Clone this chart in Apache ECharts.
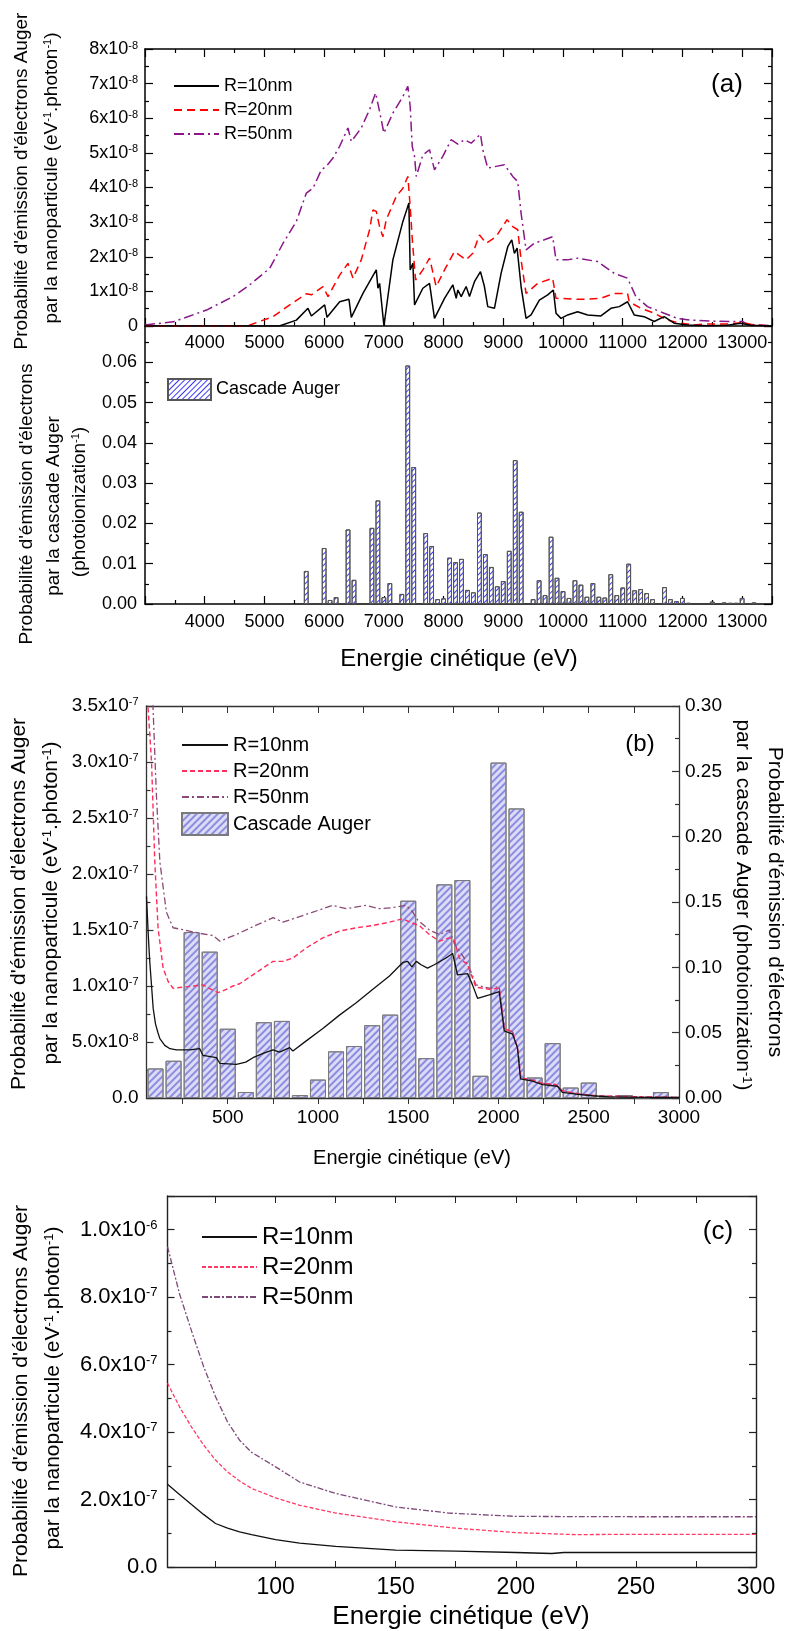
<!DOCTYPE html>
<html>
<head>
<meta charset="utf-8">
<script src="https://cdn.jsdelivr.net/npm/echarts@6.0.0/dist/echarts.min.js"></script>
<style>
html, body { margin: 0; padding: 0; background: #fff; }
#chart { width: 785px; height: 1631px; }
</style>
</head>
<body>
<div id="chart"></div>
<script>
var FONT = '"Liberation Sans", Arial, sans-serif';

// (a) probabilité par nanoparticule, unité 1e-8 eV-1.photon-1  [energie eV, valeur]
var aR10 = [[3000,0],[5250,0],[5535,0.17],[5730,0.51],[5786,0.29],[6009,0.61],[6048,0.25],[6260,0.70],[6416,0.77],[6455,0.25],[6650,0.94],[6873,1.62],[6901,1.09],[6929,1.23],[7001,0],[7151,1.91],[7319,3.02],[7374,3.31],[7419,3.55],[7441,1.62],[7486,1.81],[7514,0.61],[7653,1.09],[7765,1.23],[7848,0.22],[8016,0.80],[8155,1.19],[8211,0.80],[8239,1.04],[8295,0.85],[8378,1.14],[8434,0.85],[8517,1.28],[8618,1.57],[8684,1.14],[8740,0.56],[8852,0.51],[8963,1.52],[9075,2.29],[9142,2.49],[9186,2.10],[9231,2.25],[9298,1.14],[9381,0.22],[9465,0.32],[9604,0.75],[9744,0.90],[9838,1.04],[9883,0.37],[9966,0.22],[10078,0.32],[10245,0.41],[10412,0.32],[10635,0.29],[10802,0.51],[10942,0.56],[11081,0.70],[11192,0.32],[11359,0.27],[11527,0.13],[11694,0.27],[11861,0.08],[12084,0.03],[12419,0.01],[12753,0.02],[12976,0.08],[13143,0.02],[13500,0]];
var aR20 = [[3000,0],[4700,0],[4755,0.03],[5145,0.27],[5424,0.61],[5702,0.93],[5786,0.90],[5981,1.14],[6065,0.85],[6260,1.47],[6399,1.81],[6483,1.38],[6622,1.91],[6761,2.78],[6817,3.35],[6873,3.31],[6928,2.87],[6984,2.58],[7040,3.07],[7207,3.74],[7319,3.98],[7402,4.32],[7441,3.45],[7475,2.53],[7531,1.33],[7653,1.62],[7765,1.96],[7876,1.14],[8016,1.62],[8183,2.15],[8378,1.91],[8490,2.10],[8601,2.63],[8713,2.39],[8880,2.58],[9064,3.07],[9158,2.87],[9242,2.78],[9298,1.91],[9381,0.94],[9576,1.23],[9827,1.38],[9883,0.80],[10301,0.77],[10635,0.80],[10858,0.94],[11081,0.94],[11109,0.70],[11304,0.51],[11527,0.37],[11750,0.17],[11973,0.08],[12196,0.03],[12419,0.06],[12753,0.06],[13004,0.10],[13199,0.03],[13500,0]];
var aR50 = [[3000,0.03],[3473,0.12],[4030,0.46],[4477,0.85],[4755,1.19],[5090,1.67],[5312,2.39],[5535,3.02],[5702,3.84],[5814,3.98],[5953,4.51],[6037,4.61],[6148,4.85],[6260,5.19],[6399,5.72],[6455,5.33],[6622,5.72],[6761,6.25],[6862,6.73],[6928,6.20],[7001,5.57],[7151,6.15],[7319,6.63],[7402,6.92],[7441,6.34],[7475,5.19],[7514,4.90],[7542,4.32],[7653,4.94],[7765,5.09],[7848,4.51],[7987,4.90],[8127,5.38],[8238,5.25],[8350,5.38],[8462,5.28],[8618,5.54],[8657,5.09],[8740,4.56],[8880,4.61],[9019,4.66],[9158,4.32],[9242,4.17],[9298,3.26],[9381,2.20],[9520,2.39],[9688,2.49],[9827,2.58],[9883,1.91],[10078,1.91],[10245,1.96],[10579,1.86],[10858,1.52],[11081,1.38],[11220,0.85],[11415,0.56],[11694,0.37],[11917,0.22],[12140,0.17],[12530,0.14],[12809,0.13],[13004,0.13],[13087,0.05],[13500,0.01]];

// (a) cascade Auger, photoionization-1
var aCascade = [[5700,0.0082],[6000,0.0139],[6100,0.0010],[6200,0.0017],[6400,0.0185],[6500,0.0060],[6800,0.0189],[6900,0.0257],[7000,0.0017],[7100,0.0052],[7300,0.0025],[7400,0.0592],[7500,0.0340],[7700,0.0176],[7800,0.0144],[7900,0.0012],[8000,0.0014],[8100,0.0115],[8200,0.0104],[8300,0.0112],[8400,0.0035],[8500,0.0029],[8600,0.0227],[8700,0.0124],[8800,0.0092],[8900,0.0044],[9000,0.0057],[9100,0.0132],[9200,0.0357],[9300,0.0229],[9500,0.0012],[9600,0.0059],[9700,0.0022],[9800,0.0167],[9900,0.0065],[10000,0.0032],[10100,0.0015],[10200,0.0059],[10300,0.0048],[10400,0.0018],[10500,0.0052],[10600,0.0018],[10700,0.0016],[10800,0.0074],[10900,0.0022],[11000,0.0041],[11100,0.0100],[11200,0.0034],[11300,0.0037],[11400,0.0027],[11500,0.0012],[11700,0.0042],[11800,0.0012],[11900,0.0007],[12000,0.0015],[12100,0.0003],[12500,0.0006],[12700,0.0004],[12800,0.0003],[12900,0.0003],[13000,0.0015],[13200,0.0004]];

// (b) unité 1e-7
var bR10 = [[50,1.8],[60,1.45],[68,1.22],[78,1.0],[87,0.8],[100,0.66],[114,0.58],[124,0.53],[151,0.47],[180,0.44],[216,0.43],[290,0.43],[345,0.44],[354,0.45],[363,0.38],[437,0.36],[456,0.31],[548,0.30],[600,0.32],[640,0.36],[700,0.40],[751,0.43],[787,0.41],[843,0.45],[861,0.42],[935,0.51],[1027,0.62],[1119,0.74],[1212,0.85],[1304,0.97],[1396,1.09],[1470,1.21],[1497,1.22],[1520,1.17],[1545,1.22],[1571,1.19],[1607,1.16],[1644,1.19],[1709,1.25],[1746,1.29],[1773,1.10],[1829,1.11],[1856,1.01],[1884,0.89],[1949,0.92],[2004,0.95],[2032,0.60],[2078,0.57],[2105,0.45],[2122,0.17],[2188,0.15],[2244,0.12],[2327,0.105],[2354,0.05],[2428,0.035],[2520,0.02],[2612,0.01],[2800,0.005],[3000,0.005]];
var bR20 = [[50,3.7],[60,3.45],[70,3.2],[78,3.0],[96,2.11],[114,1.52],[142,1.16],[170,1.04],[197,0.98],[253,0.99],[308,1.0],[363,1.01],[409,0.97],[446,0.94],[492,0.97],[529,1.0],[566,1.02],[621,1.08],[695,1.16],[751,1.22],[806,1.22],[861,1.25],[935,1.34],[1027,1.43],[1119,1.49],[1212,1.52],[1304,1.54],[1396,1.57],[1470,1.60],[1525,1.56],[1561,1.54],[1617,1.46],[1672,1.40],[1727,1.43],[1755,1.41],[1783,1.25],[1829,1.19],[1875,0.99],[1949,0.97],[2004,0.98],[2032,0.62],[2078,0.59],[2105,0.45],[2124,0.18],[2188,0.16],[2244,0.13],[2317,0.12],[2354,0.065],[2428,0.04],[2539,0.02],[2797,0.01],[3000,0.005]];
var bR50 = [[55,5.0],[70,4.2],[87,3.45],[105,2.7],[124,2.11],[160,1.66],[197,1.52],[262,1.50],[345,1.47],[419,1.45],[456,1.40],[548,1.46],[640,1.53],[751,1.61],[806,1.57],[861,1.60],[972,1.66],[1082,1.72],[1156,1.69],[1267,1.72],[1341,1.69],[1414,1.70],[1488,1.72],[1525,1.66],[1552,1.59],[1617,1.50],[1672,1.46],[1727,1.50],[1755,1.38],[1810,1.25],[1847,1.13],[1875,1.01],[1949,0.98],[2004,0.995],[2032,0.62],[2078,0.59],[2105,0.45],[2124,0.18],[2188,0.16],[2244,0.13],[2317,0.12],[2354,0.065],[2428,0.04],[2539,0.02],[2797,0.01],[3000,0.005]];
var bCascade = [[100,0.0226],[200,0.0285],[300,0.127],[400,0.112],[500,0.053],[600,0.0046],[700,0.058],[800,0.059],[900,0.0022],[1000,0.0141],[1100,0.0357],[1200,0.0398],[1300,0.0557],[1400,0.0638],[1500,0.151],[1600,0.0305],[1700,0.1635],[1800,0.1668],[1900,0.017],[2000,0.2567],[2100,0.2216],[2200,0.0157],[2300,0.042],[2400,0.008],[2500,0.0118],[2600,0.0013],[2700,0.0022],[2800,0.0005],[2900,0.0045]];

// (c) unité 1e-7
var cR10 = [[55,2.45],[60,2.15],[65,1.85],[70,1.56],[75,1.29],[80,1.15],[85,1.04],[90,0.96],[100,0.81],[110,0.71],[125,0.61],[150,0.50],[175,0.47],[200,0.43],[215,0.40],[220,0.43],[250,0.43],[300,0.43]];
var cR20 = [[55,5.45],[60,4.75],[65,4.15],[70,3.62],[75,3.17],[80,2.82],[85,2.55],[90,2.33],[100,2.05],[110,1.83],[125,1.60],[150,1.34],[175,1.15],[200,1.02],[225,0.96],[250,0.97],[300,0.97]];
var cR50 = [[55,9.5],[60,8.1],[65,7.0],[70,5.95],[75,5.05],[80,4.3],[85,3.76],[90,3.4],[100,2.97],[110,2.52],[125,2.18],[150,1.78],[172,1.60],[200,1.50],[250,1.49],[300,1.49]];

// graduations
var bLabelX = [500, 1000, 1500, 2000, 2500, 3000];
var bTickX = [250, 500, 750, 1000, 1250, 1500, 1750, 2000, 2250, 2500, 2750, 3000];
var cLabelX = [100, 150, 200, 250, 300];
var cTickX = [75, 100, 125, 150, 175, 200, 225, 250, 275, 300];

function rich(size) {
    return {
        b: { fontSize: size, fontFamily: FONT, color: '#000' },
        s: { fontSize: Math.round(size * 0.6), fontFamily: FONT, color: '#000', verticalAlign: 'top' }
    };
}
function richG(size) {
    return {
        b: { fontSize: size, fontFamily: FONT, fill: '#000' },
        s: { fontSize: Math.round(size * 0.6), fontFamily: FONT, fill: '#000', verticalAlign: 'top' }
    };
}

// formats des graduations
function plain(v) { return String(v); }
function fmtA(v) { return v === 0 ? '{b|0}' : '{b|' + v + 'x10}{s|-8}'; }
function fmtB(v) {
    if (v === 0) return '{b|0.0}';
    if (v < 1) return '{b|' + (v * 10).toFixed(1) + 'x10}{s|-8}';
    return '{b|' + v.toFixed(1) + 'x10}{s|-7}';
}
function fmtC(v) {
    if (v === 0) return '{b|0.0}';
    if (v < 10) return '{b|' + v.toFixed(1) + 'x10}{s|-7}';
    return '{b|' + (v / 10).toFixed(1) + 'x10}{s|-6}';
}

function axis(o) {
    var base = {
        type: 'value',
        splitLine: { show: false },
        axisLine: { show: true, onZero: false, lineStyle: { color: '#000', width: 1.5 } },
        axisTick: { show: true, inside: true, length: 8, lineStyle: { color: '#000', width: 1.2 } },
        minorTick: { show: false },
        axisLabel: { show: false }
    };
    for (var k in o) base[k] = o[k];
    return base;
}
function tick(len, color) {
    return { show: true, inside: true, length: len, lineStyle: { color: color || '#000', width: 1.2 } };
}
function minorT(len, color) {
    return { show: true, splitNumber: 2, length: len, lineStyle: { color: color || '#000', width: 1.2 } };
}

function line(name, xi, yi, data, color, type, width, z) {
    return {
        name: name, type: 'line', xAxisIndex: xi, yAxisIndex: yi, data: data,
        symbol: 'none', z: z, clip: true,
        lineStyle: { color: color, type: type, width: width },
        itemStyle: { color: color }
    };
}

var xAxes = [
    // (a) haut
    axis({ gridIndex: 0, position: 'bottom', min: 3000, max: 13500, interval: 1000,
        minorTick: minorT(4),
        axisLabel: { show: true, formatter: plain, fontSize: 18, fontFamily: FONT, color: '#000', margin: 8, showMinLabel: false, showMaxLabel: false } }),
    axis({ gridIndex: 0, position: 'top', min: 3000, max: 13500, interval: 1000, minorTick: minorT(4) }),
    // (a) bas
    axis({ gridIndex: 1, position: 'bottom', min: 3000, max: 13500, interval: 1000,
        minorTick: minorT(4),
        axisLabel: { show: true, formatter: plain, fontSize: 18, fontFamily: FONT, color: '#000', margin: 9, showMinLabel: false, showMaxLabel: false } }),
    // (b)
    axis({ gridIndex: 2, position: 'bottom', min: 50, max: 3000,
        axisLine: { show: true, onZero: false, lineStyle: { color: '#333', width: 1.3 } },
        axisTick: { show: true, inside: false, length: 6, customValues: bTickX, lineStyle: { color: '#333' } },
        axisLabel: { show: true, customValues: bLabelX, formatter: plain, fontSize: 19, fontFamily: FONT, color: '#000', margin: 10 } }),
    axis({ gridIndex: 2, position: 'top', min: 50, max: 3000,
        axisLine: { show: true, onZero: false, lineStyle: { color: '#333', width: 1.3 } },
        axisTick: { show: true, inside: true, length: 7, customValues: bTickX, lineStyle: { color: '#333' } } }),
    // (c)
    axis({ gridIndex: 3, position: 'bottom', min: 55, max: 300,
        axisLine: { show: true, onZero: false, lineStyle: { color: '#222', width: 1.4 } },
        axisTick: { show: true, inside: true, length: 6, customValues: cTickX, lineStyle: { color: '#222' } },
        axisLabel: { show: true, customValues: cLabelX, formatter: plain, fontSize: 23, fontFamily: FONT, color: '#000', margin: 9 } }),
    axis({ gridIndex: 3, position: 'top', min: 55, max: 300,
        axisLine: { show: true, onZero: false, lineStyle: { color: '#222', width: 1.4 } },
        axisTick: { show: true, inside: true, length: 7, customValues: cTickX, lineStyle: { color: '#222' } } })
];

var yAxes = [
    // (a) haut
    axis({ gridIndex: 0, position: 'left', min: 0, max: 8, interval: 1, minorTick: minorT(4),
        axisLabel: { show: true, formatter: fmtA, rich: rich(18), fontSize: 18, margin: 7 } }),
    axis({ gridIndex: 0, position: 'right', min: 0, max: 8, interval: 1, minorTick: minorT(4) }),
    // (a) bas
    axis({ gridIndex: 1, position: 'left', min: 0, max: 0.069, interval: 0.01, minorTick: minorT(4),
        axisLabel: { show: true, fontSize: 18, fontFamily: FONT, color: '#000', margin: 8, showMaxLabel: false,
            formatter: function (v) { return v.toFixed(2); } } }),
    axis({ gridIndex: 1, position: 'right', min: 0, max: 0.069, interval: 0.01, minorTick: minorT(4) }),
    // (b)
    axis({ gridIndex: 2, position: 'left', min: 0, max: 3.5, interval: 0.5,
        axisLine: { show: true, onZero: false, lineStyle: { color: '#333', width: 1.3 } },
        axisTick: tick(7, '#333'), minorTick: minorT(4, '#333'),
        axisLabel: { show: true, formatter: fmtB, rich: rich(19), fontSize: 19, margin: 8 } }),
    axis({ gridIndex: 2, position: 'right', min: 0, max: 0.30, interval: 0.05,
        axisLine: { show: true, onZero: false, lineStyle: { color: '#333', width: 1.3 } },
        axisTick: tick(7, '#333'), minorTick: minorT(4, '#333'),
        axisLabel: { show: true, fontSize: 19, fontFamily: FONT, color: '#000', margin: 6,
            formatter: function (v) { return v.toFixed(2); } } }),
    // (c)
    axis({ gridIndex: 3, position: 'left', min: 0, max: 11, interval: 2,
        axisLine: { show: true, onZero: false, lineStyle: { color: '#222', width: 1.4 } },
        axisTick: tick(7, '#222'), minorTick: minorT(4, '#222'),
        axisLabel: { show: true, formatter: fmtC, rich: rich(22), fontSize: 22, margin: 10, showMaxLabel: false } }),
    axis({ gridIndex: 3, position: 'right', min: 0, max: 11, interval: 2,
        axisLine: { show: true, onZero: false, lineStyle: { color: '#222', width: 1.4 } },
        axisTick: tick(7, '#222'), minorTick: minorT(4, '#222') })
];

var hatchA = { symbol: 'rect', symbolSize: 1, color: '#3a3af2', dashArrayX: [1, 0], dashArrayY: [1, 2.6], rotation: -Math.PI / 4 };
var hatchB = { symbol: 'rect', symbolSize: 1, color: '#8c8ce0', dashArrayX: [1, 0], dashArrayY: [1.2, 3], rotation: -Math.PI / 4 };

var series = [
    line('R=50nm#a', 0, 0, aR50, '#8a168a', [10, 4, 2, 4], 1.5, 2),
    line('R=20nm#a', 0, 0, aR20, '#ff0000', [8, 5], 1.5, 3),
    line('R=10nm#a', 0, 0, aR10, '#000000', 'solid', 1.5, 4),
    {
        name: 'Cascade Auger#a', type: 'bar', xAxisIndex: 2, yAxisIndex: 2, data: aCascade,
        barWidth: 4.8, z: 2,
        itemStyle: { color: '#ffffff', borderColor: '#555', borderWidth: 1, decal: hatchA }
    },
    {
        name: 'Cascade Auger#b', type: 'bar', xAxisIndex: 3, yAxisIndex: 5, data: bCascade,
        barWidth: 16, z: 2,
        itemStyle: { color: '#dcdcf6', borderColor: '#7a7a7a', borderWidth: 1, decal: hatchB }
    },
    line('R=50nm#b', 3, 4, bR50, '#8b4a76', [7, 3, 2, 3], 1.3, 3),
    line('R=20nm#b', 3, 4, bR20, '#ff2d5e', [5, 3], 1.4, 4),
    line('R=10nm#b', 3, 4, bR10, '#111111', 'solid', 1.3, 5),
    line('R=50nm#c', 5, 6, cR50, '#7d4a7a', [6, 2, 2, 2], 1.3, 3),
    line('R=20nm#c', 5, 6, cR20, '#ff3a66', [4, 2], 1.3, 4),
    line('R=10nm#c', 5, 6, cR10, '#111111', 'solid', 1.3, 5)
];

// entrée de légende pour une courbe : le trait seul, sans symbole
function lineItem(name) {
    return { name: name, itemStyle: { opacity: 0 } };
}

function legend(names, left, top, w, h, gap, size) {
    return {
        data: names, orient: 'vertical', left: left, top: top, padding: 0,
        itemWidth: w, itemHeight: h, itemGap: gap, selectedMode: false,
        textStyle: { fontSize: size, fontFamily: FONT, color: '#000', lineHeight: h },
        formatter: function (n) { return n.split('#')[0]; }
    };
}

function vText(x, y, rot, size, text) {
    return {
        type: 'text', x: x, y: y, rotation: rot, silent: true,
        style: { text: text, fontSize: size, fontFamily: FONT, fill: '#000', align: 'center', verticalAlign: 'middle', rich: richG(size) }
    };
}

var graphics = [
    vText(22, 181, Math.PI / 2, 19, "{b|Probabilité d'émission d'électrons Auger}"),
    vText(52, 178, Math.PI / 2, 19, "{b|par la nanoparticule (eV}{s|-1}{b|.photon}{s|-1}{b|)}"),
    vText(27, 504, Math.PI / 2, 19, "{b|Probabilité d'émission d'électrons}"),
    vText(54, 506, Math.PI / 2, 19, "{b|par la cascade Auger}"),
    vText(80, 502, Math.PI / 2, 19, "{b|(photoionization}{s|-1}{b|)}"),
    vText(459, 659, 0, 24, "{b|Energie cinétique (eV)}"),
    vText(727, 85, 0, 26, "{b|(a)}"),

    vText(19, 904, Math.PI / 2, 21, "{b|Probabilité d'émission d'électrons Auger}"),
    vText(51, 903, Math.PI / 2, 21, "{b|par la nanoparticule (eV}{s|-1}{b|.photon}{s|-1}{b|)}"),
    vText(775, 902, -Math.PI / 2, 21, "{b|Probabilité d'émission d'électrons}"),
    vText(743, 905, -Math.PI / 2, 21, "{b|par la cascade Auger (photoionization}{s|-1}{b|)}"),
    vText(412, 1158, 0, 20, "{b|Energie cinétique (eV)}"),
    vText(640, 744, 0, 24, "{b|(b)}"),

    vText(21, 1391, Math.PI / 2, 21, "{b|Probabilité d'émission d'électrons Auger}"),
    vText(53, 1388, Math.PI / 2, 21, "{b|par la nanoparticule (eV}{s|-1}{b|.photon}{s|-1}{b|)}"),
    vText(461, 1617, 0, 26, "{b|Energie cinétique (eV)}"),
    vText(718, 1232, 0, 26, "{b|(c)}")
];

var chart = echarts.init(document.getElementById('chart'), null, { renderer: 'canvas' });
chart.setOption({
    animation: false,
    backgroundColor: '#fff',
    grid: [
        { left: 145, top: 49, width: 627, height: 277 },
        { left: 145, top: 326, width: 627, height: 278 },
        { left: 146.5, top: 706, width: 532.5, height: 392 },
        { left: 167.5, top: 1196, width: 588.5, height: 371 }
    ],
    xAxis: xAxes,
    yAxis: yAxes,
    legend: [
        legend([lineItem('R=10nm#a'), lineItem('R=20nm#a'), lineItem('R=50nm#a')], 173, 76, 45, 20, 4, 18),
        legend([{ name: 'Cascade Auger#a', icon: 'rect' }], 167, 378, 43, 21, 4, 18),
        legend([lineItem('R=10nm#b'), lineItem('R=20nm#b'), lineItem('R=50nm#b'), { name: 'Cascade Auger#b', icon: 'rect' }], 181, 734, 46, 22, 4, 20),
        legend([lineItem('R=10nm#c'), lineItem('R=20nm#c'), lineItem('R=50nm#c')], 201, 1225, 55, 24, 6, 24)
    ],
    series: series,
    graphic: graphics
});
</script>
</body>
</html>
